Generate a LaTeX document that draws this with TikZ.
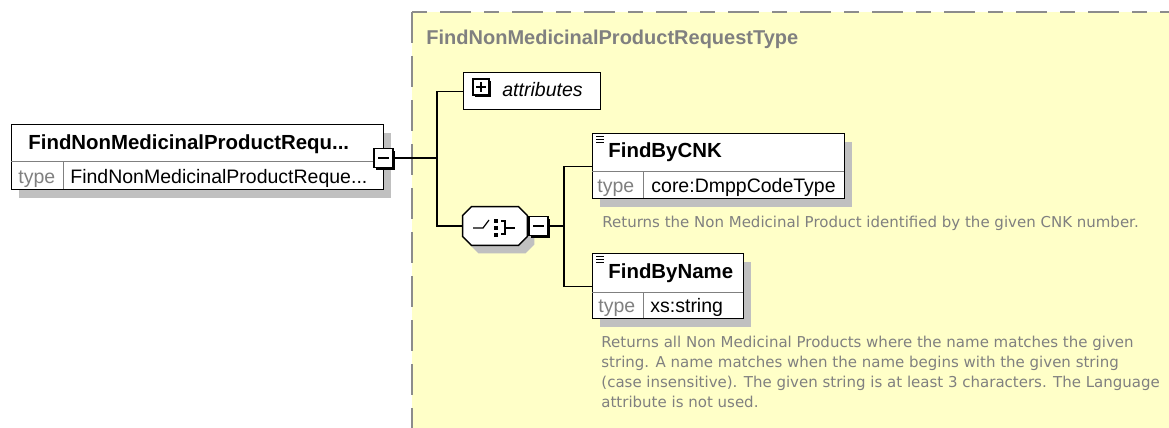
\documentclass[tikz,border=0pt]{standalone}
\usepackage{fontspec}
\setmainfont{Liberation Sans}
\newfontfamily\descfont{DejaVu Sans}
\usetikzlibrary{positioning,shadows}

\definecolor{paleyellow}{RGB}{255,255,200}
\definecolor{dashgray}{RGB}{140,140,140}
\definecolor{textgray}{RGB}{128,128,128}
\definecolor{shadowgray}{RGB}{192,192,192}

\begin{document}
\begin{tikzpicture}[x=1pt,y=-1pt,thick,node distance=1pt,
  elem box/.style={draw,fill=white,line width=1.4pt,inner sep=0pt,anchor=north west,
    general shadow={fill=shadowgray,shadow xshift=7pt,shadow yshift=-8pt}},
  cell line/.style={textgray,line width=0.8pt},
  name text/.style={anchor=base west,inner sep=0pt,font=\fontsize{20.4}{22}\selectfont\bfseries},
  type label/.style={anchor=base west,inner sep=0pt,text=textgray,font=\fontsize{19.5}{22}\selectfont},
  type value/.style={anchor=base west,inner sep=0pt,font=\fontsize{19.5}{22}\selectfont},
  desc/.style={anchor=north west,inner sep=0pt,align=left,text=textgray,
    font=\descfont\fontsize{15}{20}\selectfont},
  minusbtn/.style={draw,fill=white,line width=1.2pt,minimum size=19pt,inner sep=0pt,
    general shadow={fill=black,shadow xshift=2pt,shadow yshift=-2pt},
    path picture={\draw[line width=1.2pt]
      ([xshift=4pt]path picture bounding box.west) -- ([xshift=-4pt]path picture bounding box.east);}},
  plusbtn/.style={minusbtn,minimum size=16pt,
    path picture={\draw[line width=1.2pt]
      ([xshift=3pt]path picture bounding box.west) -- ([xshift=-3pt]path picture bounding box.east)
      ([yshift=-3pt]path picture bounding box.north) -- ([yshift=3pt]path picture bounding box.south);}},
  doc mark/.style={line width=0.8pt},
  conn/.style={line width=1.3pt}]

  \useasboundingbox (0,0) rectangle (1169,428);

  % complex type area
  \fill[paleyellow] (412,12) rectangle (1169,428);
  \draw[dashgray,line width=2pt,dash pattern=on 31pt off 13pt] (412,12) -- (412,428);
  \draw[dashgray,line width=2pt,dash pattern=on 15pt off 13pt on 31pt off 13pt] (412,12) -- (1169,12);
  \node[anchor=base west,inner sep=0pt,text=textgray,font=\fontsize{20}{24}\selectfont\bfseries]
    (typename) at (426,45) {FindNonMedicinalProductRequestType};

  % root element
  \node[elem box,minimum width=372pt,minimum height=65pt] (root) at (11,124) {};
  \draw[cell line] (11,161) -- (383,161) (63,161) -- (63,189);
  \node[name text] (rootname) at (28,149) {FindNonMedicinalProductRequ...};
  \node[type label] (roottype) at (18,183) {type};
  \node[type value] (rootval) at (70,183) {FindNonMedicinalProductReque...};
  \node[minusbtn] (rootminus) at (383.5,158) {};

  % attributes
  \node[draw,fill=white,line width=1.4pt,anchor=north west,inner sep=0pt,
    minimum width=137pt,minimum height=37pt] (attr) at (463,72) {};
  \node[plusbtn] (attrplus) at (481,87) {};
  \node[anchor=base west,inner sep=0pt,font=\fontsize{19.5}{22}\selectfont\itshape]
    (attrtext) at (502,96.5) {attributes};

  % sequence
  \node[minimum width=64pt,minimum height=38pt,inner sep=0pt] (seq) at (495,226) {};
  \draw[line width=1.4pt,fill=white,
    general shadow={fill=shadowgray,shadow xshift=7pt,shadow yshift=-8pt}]
    ([xshift=9pt]seq.north west) -- ([xshift=-9pt]seq.north east)
    -- ([yshift=-9pt]seq.north east) -- ([yshift=9pt]seq.south east)
    -- ([xshift=-9pt]seq.south east) -- ([xshift=9pt]seq.south west)
    -- ([yshift=9pt]seq.south west) -- ([yshift=-9pt]seq.north west) -- cycle;
  \draw[line width=1.2pt] (473,228) -- (483,228) -- (489,220);
  \foreach \yy in {219,226,233}
    \fill (494,\yy) rectangle (498,\yy+4);
  \draw[line width=1.2pt] (501,221) -- (505,221) -- (505,234) -- (501,234)
    (505,228) -- (515,228);
  \node[minusbtn,right=1pt of seq] (seqminus) {};

  % FindByCNK
  \node[elem box,minimum width=252pt,minimum height=65pt] (cnk) at (592,133) {};
  \draw[cell line] (592,171) -- (844,171) (643,171) -- (643,198);
  \draw[doc mark] (596,136) -- (604,136) (596,139) -- (604,139) (596,142) -- (604,142);
  \node[name text] (cnkname) at (608,157.5) {FindByCNK};
  \node[type label] (cnktype) at (597,192) {type};
  \node[type value] (cnkval) at (651,192) {core:DmppCodeType};
  \node[desc,anchor=base west] (cnkdesc) at (602,227)
    {Returns the Non Medicinal Product identified by the given CNK number.};

  % FindByName
  \node[elem box,minimum width=151pt,minimum height=65pt] (byname) at (592,253) {};
  \draw[cell line] (592,292) -- (743,292) (643,292) -- (643,318);
  \draw[doc mark] (596,256) -- (604,256) (596,259) -- (604,259) (596,262) -- (604,262);
  \node[name text] (bynamename) at (608,278) {FindByName};
  \node[type label] (bynametype) at (598,312) {type};
  \node[type value] (bynameval) at (650,312) {xs:string};
  \node[desc] (bynamedesc) at (601,335.8)
    {Returns all Non Medicinal Products where the name matches the given\\
     string. A name matches when the name begins with the given string\\
     (case insensitive). The given string is at least 3 characters. The Language\\
     attribute is not used.};

  % connectors
  \coordinate (rootjoin) at (437,158);
  \coordinate (seqjoin) at (564,226);
  \draw[conn] (rootminus.east) -- (rootjoin);
  \draw[conn] (rootjoin) |- (attr.west);
  \draw[conn] (rootjoin) |- (seq.west);
  \draw[conn] (seqminus.east) -- (seqjoin);
  \draw[conn] (seqjoin) |- (cnk.west);
  \draw[conn] (seqjoin) |- (byname.west);
\end{tikzpicture}
\end{document}
